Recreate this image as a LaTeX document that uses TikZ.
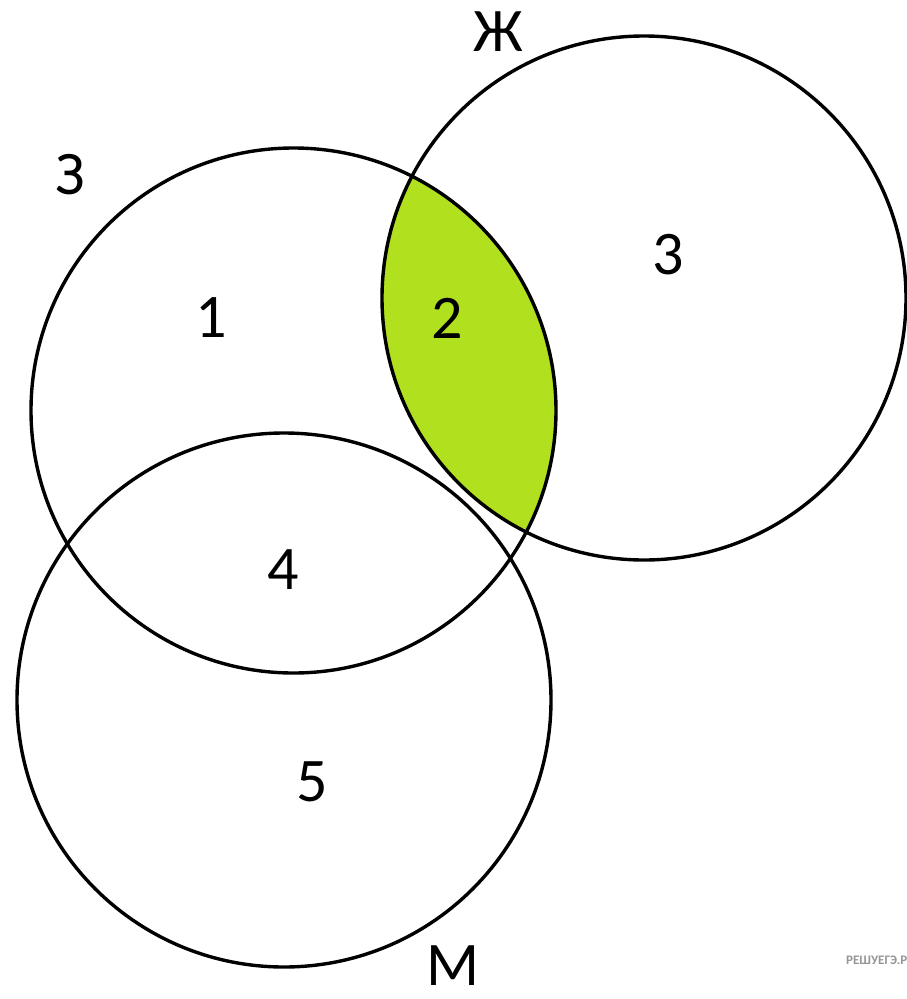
\documentclass[tikz,border=0pt]{standalone}
\usepackage{fontspec}
\setmainfont{Carlito}
\definecolor{lensgreen}{RGB}{176,224,30}
\definecolor{wmgray}{RGB}{150,150,150}
\begin{document}
\begin{tikzpicture}[x=1pt,y=-1pt,
  circ/.style={draw=black,line width=3.4pt},
  lbl/.style={inner sep=0pt,font=\fontsize{62}{68}\selectfont},
  wm/.style={inner sep=0pt,anchor=west,text=wmgray,font=\fontsize{13}{15}\selectfont\bfseries}]
\useasboundingbox (0,0) rectangle (907,999);
\clip (0,0) rectangle (907,999);
\fill[white] (0,0) rectangle (907,999);
\coordinate (cZ) at (293.5,410.5);
\coordinate (cJ) at (644,298);
\coordinate (cM) at (284,700);
% green lens
\begin{scope}
  \clip (cJ) circle (262);
  \fill[lensgreen] (cZ) circle (262.5);
\end{scope}
\draw[circ] (cZ) circle (262.5);
\draw[circ] (cJ) circle (262);
\draw[circ] (cM) circle (267);
\node[lbl] (lZ) at (70,175) {З};
\node[lbl] (lJ) at (498,32) {Ж};
\node[lbl] (lM) at (453,966) {М};
\node[lbl] (n1) at (211,318) {1};
\node[lbl] (n2) at (447,318) {2};
\node[lbl] (n3) at (668,255) {3};
\node[lbl] (n4) at (283,570) {4};
\node[lbl] (n5) at (312,782) {5};
\node[wm] (w) at (846,960) {РЕШУЕГЭ.РФ};
\end{tikzpicture}
\end{document}
